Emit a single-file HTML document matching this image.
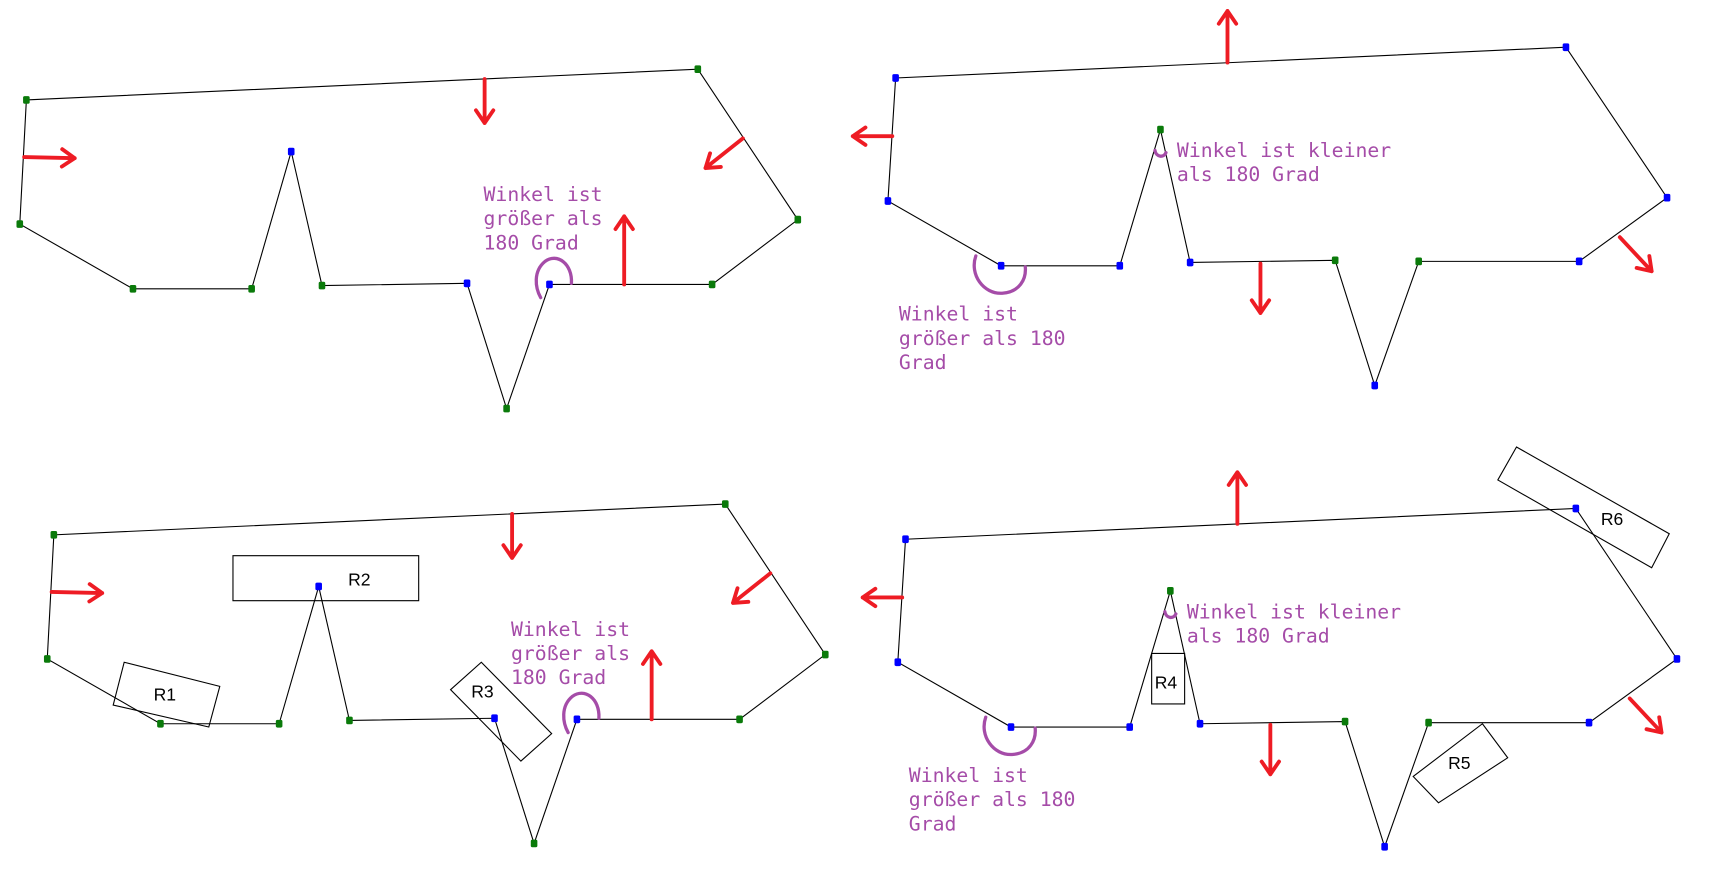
<!DOCTYPE html>
<html><head><meta charset="utf-8"><style>
html,body{margin:0;padding:0;background:#fff;}
svg{display:block;}
.t{font-family:"DejaVu Sans Mono","Liberation Mono",monospace;font-size:18px;fill:#a54ca8;}
.r{font-family:"Liberation Sans",sans-serif;font-size:16px;fill:#000;}
</style></head><body>
<svg id="chart" width="1722" height="872" viewBox="0 0 1567 794" preserveAspectRatio="none" xmlns="http://www.w3.org/2000/svg">
<g id="g"></g>
</svg>
<script>
// polygon vertices (display coords) and vertex types: g=green, b=blue
const polyA = [[24,91],[18,204],[121,263],[229,263],[265,138],[293,260],[425,258],[461,372],[500,259],[648,259],[726,200],[635,63]];
const typeA = ['g','g','g','g','b','g','b','g','b','g','g','g'];
const polyB = [[815,71],[808,183],[911,242],[1019,242],[1056,118],[1083,239],[1215,237],[1251,351],[1291,238],[1437,238],[1517,180],[1425,43]];
const typeB = ['b','b','b','b','g','b','g','b','g','b','b','b'];
const offsetC = [25,396];
const offsetD = [9,420];
const arrowsA = [[22,143,68,144],[441,72,441,112],[676,126,642,153],[568,259,568,197]];
const arrowsB = [[1117,57,1117,10],[812,124,776,124],[1147,240,1147,285],[1474,216,1503,247]];
const rects = [
 ['R1',[[113,603],[200,625],[190,662],[103,642]],[150,638]],
 ['R2',[[212,506],[381,506],[381,547],[212,547]],[327,533]],
 ['R3',[[410,628],[438,603],[502,668],[474,693]],[439,635]],
 ['R4',[[1048,595],[1078,595],[1078,641],[1048,641]],[1061,627]],
 ['R5',[[1286,707],[1349,659],[1372,690],[1309,731]],[1328,700]],
 ['R6',[[1380,407],[1519,486],[1503,517],[1363,437]],[1467,478]]
];
const g = document.getElementById('g');
const NS = 'http://www.w3.org/2000/svg';
function mk(tag, attrs){const e=document.createElementNS(NS,tag);for(const k in attrs)e.setAttribute(k,attrs[k]);g.appendChild(e);return e;}
function drawPoly(pts,types,off,name){
  const p = pts.map(v=>[v[0]+off[0],v[1]+off[1]]);
  const pl = mk('polygon',{points:p.map(v=>v.join(',')).join(' '),fill:'none',stroke:'#000','stroke-width':1});
  
  
  p.forEach((v,i)=>{
    const d = mk('rect',{x:v[0]-3,y:v[1]-3.5,width:6,height:7,rx:1.5,fill:types[i]==='g'?'#0a7a0a':'#0000ff'});
    
    
  });
}
function drawArrow(a,off,name){
  const x1=a[0]+off[0],y1=a[1]+off[1],x2=a[2]+off[0],y2=a[3]+off[1];
  const ang=Math.atan2(y2-y1,x2-x1),L=14,s=0.6;
  const d=`M${x1},${y1} L${x2},${y2} M${x2-L*Math.cos(ang-s)},${y2-L*Math.sin(ang-s)} L${x2},${y2} L${x2-L*Math.cos(ang+s)},${y2-L*Math.sin(ang+s)}`;
  const e=mk('path',{d:d,fill:'none',stroke:'#ee1c24','stroke-width':3.5,'stroke-linecap':'round','stroke-linejoin':'round'});
  
  
}
drawPoly(polyA,typeA,[0,0],'polygon-a');
drawPoly(polyB,typeB,[0,0],'polygon-b');
drawPoly(polyA,typeA,offsetC,'polygon-c');
drawPoly(polyB,typeB,offsetD,'polygon-d');
arrowsA.forEach(a=>{drawArrow(a,[0,0],'normal-arrow');drawArrow(a,offsetC,'normal-arrow');});
arrowsB.forEach(a=>{drawArrow(a,[0,0],'normal-arrow');drawArrow(a,offsetD,'normal-arrow');});
rects.forEach(r=>{
  const e=mk('polygon',{points:r[1].map(v=>v.join(',')).join(' '),fill:'none',stroke:'#000','stroke-width':1});
  
  
  const t=mk('text',{x:r[2][0],y:r[2][1],'text-anchor':'middle',class:'r'});
  t.textContent=r[0];
  
  
});
function arc(d,off){
  const e=mk('path',{d:d,transform:`translate(${off[0]},${off[1]})`,fill:'none',stroke:'#a54ca8','stroke-width':3,'stroke-linecap':'round'});
  
  
}
const arcA='M520,258 C521,240 507,230 496,238 C485,247 487,262 492,271';
const arcBbig='M888,233 C882,250 895,268 912,267 C928,266 934,254 933,243';
const arcBsmall='M1051,137 C1052,143 1059,144 1061,139';
arc(arcA,[0,0]);arc(arcA,offsetC);
arc(arcBbig,[0,0]);arc(arcBbig,offsetD);
arc(arcBsmall,[0,0]);arc(arcBsmall,offsetD);
function txt(lines,x,y,off){
  lines.forEach((s,i)=>{
    const t=mk('text',{x:x+off[0],y:y+off[1]+i*22,class:'t'});
    t.textContent=s;
    
    
  });
}
txt(['Winkel ist','größer als','180 Grad'],440,183,[0,0]);
txt(['Winkel ist','größer als','180 Grad'],440,183,offsetC);
txt(['Winkel ist kleiner','als 180 Grad'],1071,143,[0,0]);
txt(['Winkel ist kleiner','als 180 Grad'],1071,143,offsetD);
txt(['Winkel ist','größer als 180','Grad'],818,292,[0,0]);
txt(['Winkel ist','größer als 180','Grad'],818,292,offsetD);
</script>
</body></html>
